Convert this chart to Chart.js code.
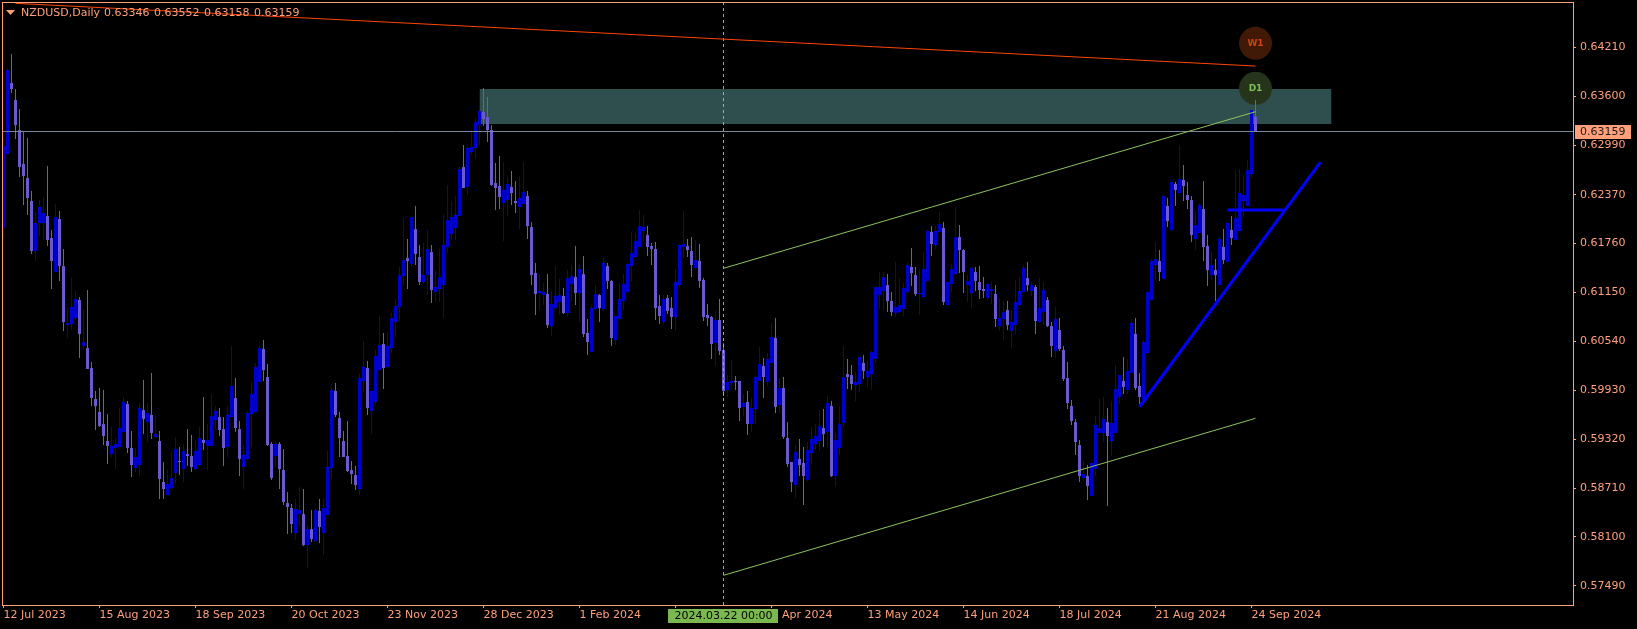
<!DOCTYPE html>
<html>
<head>
<meta charset="utf-8">
<title>NZDUSD Daily</title>
<script src="https://cdn.jsdelivr.net/npm/chart.js@4/dist/chart.umd.min.js"></script>
<style>
  html, body { margin: 0; padding: 0; background: #000; }
  canvas { display: block; }
</style>
</head>
<body>
<canvas id="chart" width="1637" height="629"></canvas>
<script>
const symbolName = "NZDUSD,Daily";

const opens = [
0.61954,0.62878,0.63765,0.63552,0.63178,0.62753,0.62578,0.62292,0.61668,0.62017,
0.62017,0.62104,0.61830,0.61405,0.62067,0.61480,0.60744,0.60756,0.60831,0.61056,
0.60482,0.60457,0.60207,0.59821,0.59658,0.59508,0.59297,0.59134,0.59209,0.59222,
0.59409,0.59758,0.59209,0.58959,0.58997,0.59683,0.59533,0.59621,0.59347,0.59297,
0.58785,0.58623,0.58710,0.58897,0.59047,0.58947,0.59134,0.59109,0.58947,0.58997,
0.59309,0.59234,0.59234,0.59558,0.59596,0.59446,0.59222,0.59596,0.59833,0.59446,
0.58972,0.59072,0.59633,0.59658,0.60033,0.60445,0.60095,0.59259,0.59109,0.59259,
0.58934,0.58523,0.58460,0.58149,0.58385,0.58385,0.57999,0.58198,0.58048,0.58423,
0.58149,0.58373,0.58959,0.59921,0.59583,0.59297,0.59109,0.58934,0.58872,0.58698,
0.60046,0.60207,0.59671,0.59783,0.60182,0.60507,0.60220,0.60457,0.60781,0.60969,
0.61355,0.61580,0.61505,0.61942,0.61593,0.61281,0.61368,0.61655,0.61156,0.61194,
0.61243,0.61718,0.61880,0.61954,0.62104,0.62716,0.62466,0.62903,0.62953,0.63240,
0.63402,0.63340,0.63178,0.62516,0.62479,0.62267,0.62304,0.62466,0.62292,0.62217,
0.62254,0.62354,0.61967,0.61393,0.61144,0.61118,0.61131,0.60731,0.60956,0.61031,
0.61106,0.60894,0.61256,0.61343,0.61144,0.61380,0.60645,0.60407,0.60944,0.61118,
0.60944,0.61480,0.61294,0.60557,0.60819,0.61044,0.61156,0.61480,0.61593,0.61718,
0.61917,0.61867,0.61730,0.61693,0.60981,0.60781,0.61081,0.60956,0.60844,0.61243,
0.61718,0.61730,0.61668,0.61455,0.61543,0.61306,0.60869,0.60844,0.60520,0.60806,
0.60432,0.59933,0.60021,0.60046,0.60046,0.59721,0.59783,0.59508,0.59696,0.60046,
0.60232,0.60033,0.60270,0.60582,0.59746,0.59958,0.59334,0.59034,0.58748,0.59072,
0.59022,0.58810,0.59147,0.59259,0.59297,0.59458,0.59409,0.59733,0.58859,0.59209,
0.59521,0.60132,0.60120,0.59996,0.60008,0.60270,0.60095,0.60132,0.60320,0.61118,
0.61169,0.61243,0.61044,0.60894,0.60906,0.60944,0.61156,0.61468,0.61368,0.61131,
0.61094,0.61294,0.61905,0.61743,0.61905,0.61954,0.60994,0.61256,0.61380,0.61842,
0.61680,0.61243,0.61144,0.61405,0.61281,0.61194,0.61081,0.61169,0.61131,0.60731,
0.60819,0.60931,0.60670,0.60744,0.60994,0.61156,0.61330,0.61169,0.61218,0.60781,
0.60906,0.61056,0.60731,0.60420,0.60682,0.60432,0.60082,0.59733,0.59533,0.59247,
0.58834,0.58859,0.58610,0.58947,0.59397,0.59397,0.59533,0.59297,0.59397,0.59846,
0.60046,0.59933,0.60145,0.60632,0.59983,0.59808,0.60395,0.61056,0.61493,0.61543,
0.61318,0.62229,0.61930,0.62504,0.62392,0.62554,0.62367,0.62304,0.61818,0.61893,
0.62192,0.61730,0.61368,0.61430,0.61243,0.61718,0.61530,0.61930,0.61805,0.61917,
0.62292,0.62229,0.62628,0.63346
];

const highs = [
0.63091,0.63951,0.64126,0.63690,0.63440,0.63153,0.63078,0.62417,0.62154,0.62304,
0.62342,0.62728,0.61930,0.62254,0.62167,0.61693,0.60969,0.61330,0.61169,0.61094,
0.60944,0.61181,0.60282,0.59921,0.59958,0.59933,0.59633,0.59471,0.59334,0.59708,
0.59846,0.59796,0.59422,0.59209,0.59771,0.60058,0.59771,0.60145,0.59608,0.59422,
0.59034,0.58934,0.59172,0.59347,0.59222,0.59259,0.59446,0.59372,0.59309,0.59471,
0.59846,0.59508,0.59883,0.59733,0.59708,0.59596,0.59733,0.60482,0.60082,0.59546,
0.59247,0.59671,0.60033,0.60270,0.60482,0.60557,0.60257,0.59284,0.59297,0.59284,
0.59197,0.58660,0.58510,0.58573,0.58722,0.58698,0.58248,0.58435,0.58448,0.58573,
0.58585,0.59172,0.60008,0.60021,0.59658,0.59422,0.59546,0.59047,0.58984,0.60132,
0.60545,0.60295,0.59921,0.60432,0.60856,0.60645,0.60657,0.60894,0.61069,0.61468,
0.62079,0.61818,0.62092,0.62229,0.61743,0.61768,0.61930,0.61743,0.61430,0.61693,
0.62129,0.62492,0.62292,0.62354,0.62728,0.62991,0.62978,0.63178,0.63328,0.63490,
0.63702,0.63590,0.63240,0.62766,0.62853,0.62778,0.62591,0.62666,0.62541,0.62603,
0.62778,0.62417,0.62029,0.61518,0.61380,0.61268,0.61380,0.61169,0.61480,0.61318,
0.61206,0.61430,0.61493,0.61730,0.61505,0.61605,0.60819,0.60994,0.61243,0.61131,
0.61580,0.61518,0.61306,0.60869,0.61268,0.61380,0.61518,0.61905,0.61893,0.62179,
0.62117,0.61979,0.61768,0.61780,0.61118,0.61118,0.61118,0.61094,0.61443,0.61755,
0.62167,0.61818,0.61842,0.61805,0.61755,0.61330,0.61006,0.60856,0.60919,0.61069,
0.60520,0.60120,0.60307,0.60107,0.60046,0.59883,0.59921,0.59833,0.60107,0.60470,
0.60332,0.60395,0.60769,0.60831,0.60082,0.60095,0.59533,0.59034,0.59247,0.59322,
0.59222,0.59284,0.59471,0.59508,0.59683,0.59696,0.59858,0.59796,0.59397,0.59733,
0.60482,0.60320,0.60245,0.60157,0.60345,0.60370,0.60307,0.60420,0.61231,0.61405,
0.61405,0.61380,0.61156,0.61530,0.61330,0.61268,0.61530,0.61705,0.61468,0.61443,
0.61655,0.61930,0.61979,0.61979,0.62154,0.62029,0.61281,0.61505,0.62217,0.61992,
0.61693,0.61368,0.61468,0.61468,0.61480,0.61343,0.61268,0.61294,0.61243,0.61081,
0.61044,0.61044,0.60931,0.61306,0.61343,0.61493,0.61530,0.61281,0.61243,0.61330,
0.61281,0.61094,0.60781,0.60969,0.60831,0.60482,0.60282,0.59808,0.59571,0.59309,
0.59047,0.58997,0.59022,0.59608,0.59821,0.59846,0.59708,0.59796,0.60245,0.60120,
0.60345,0.60320,0.60819,0.60831,0.60145,0.60557,0.61156,0.61568,0.61780,0.61680,
0.62367,0.62329,0.62541,0.62529,0.62991,0.62741,0.62529,0.62354,0.62167,0.62267,
0.62541,0.61867,0.61655,0.61568,0.61842,0.61942,0.62017,0.62104,0.62678,0.62691,
0.62603,0.62803,0.63427,0.63552
];

const lows = [
0.61818,0.62866,0.63640,0.63066,0.62591,0.62242,0.62117,0.61630,0.61543,0.61855,
0.61805,0.61730,0.61194,0.61405,0.61294,0.60670,0.60582,0.60682,0.60806,0.60332,
0.60432,0.60195,0.59733,0.59434,0.59471,0.59247,0.59009,0.59097,0.58947,0.59222,
0.59409,0.59147,0.58847,0.58909,0.58859,0.59384,0.59284,0.59322,0.59334,0.58573,
0.58573,0.58623,0.58685,0.58773,0.58872,0.58785,0.58984,0.58909,0.58934,0.58984,
0.59184,0.58934,0.59234,0.59434,0.59359,0.58984,0.59097,0.59596,0.59409,0.58859,
0.58698,0.59059,0.59222,0.59658,0.60033,0.60046,0.59234,0.58810,0.58972,0.58698,
0.58498,0.58136,0.58149,0.58061,0.58235,0.57986,0.57711,0.58036,0.58036,0.58024,
0.57874,0.58373,0.58822,0.59596,0.59097,0.59097,0.58909,0.58760,0.58685,0.58623,
0.59908,0.59621,0.59384,0.59746,0.60182,0.59946,0.60207,0.60395,0.60595,0.60781,
0.61243,0.61194,0.61468,0.61493,0.61243,0.61256,0.61118,0.61019,0.61031,0.61031,
0.60831,0.61643,0.61805,0.61805,0.62104,0.62454,0.62367,0.62866,0.62816,0.62991,
0.63227,0.63028,0.62479,0.62179,0.62192,0.61793,0.62104,0.62242,0.62142,0.61942,
0.62254,0.61818,0.61243,0.60869,0.60931,0.60994,0.60706,0.60607,0.60931,0.60869,
0.60881,0.60844,0.61044,0.60994,0.60781,0.60595,0.60370,0.60407,0.60931,0.60781,
0.60919,0.61194,0.60482,0.60495,0.60806,0.60931,0.61156,0.61281,0.61593,0.61718,
0.61793,0.61605,0.61493,0.60806,0.60756,0.60744,0.60881,0.60694,0.60670,0.61218,
0.61580,0.61593,0.61343,0.61443,0.61206,0.60794,0.60731,0.60320,0.60232,0.60370,
0.59858,0.59846,0.59946,0.59933,0.59546,0.59608,0.59372,0.59409,0.59508,0.60046,
0.59833,0.59983,0.60270,0.59646,0.59646,0.59322,0.58972,0.58660,0.58585,0.58859,
0.58498,0.58797,0.59009,0.59184,0.59172,0.59222,0.59222,0.58847,0.58722,0.59122,
0.59471,0.59946,0.59933,0.59796,0.59908,0.60070,0.59971,0.59933,0.60270,0.60944,
0.60931,0.60906,0.60856,0.60844,0.60894,0.60856,0.61131,0.61231,0.61106,0.60869,
0.61094,0.61294,0.61605,0.61693,0.61905,0.60994,0.60994,0.61156,0.61380,0.61393,
0.61144,0.61031,0.60956,0.61169,0.61069,0.61081,0.61056,0.61006,0.60719,0.60670,
0.60557,0.60682,0.60457,0.60632,0.60981,0.61156,0.61169,0.61106,0.60632,0.60769,
0.60744,0.60719,0.60345,0.60332,0.60420,0.60046,0.59696,0.59496,0.59122,0.58785,
0.58797,0.58560,0.58610,0.58859,0.59397,0.59284,0.58485,0.59109,0.59397,0.59758,
0.59883,0.59883,0.60145,0.59933,0.59758,0.59808,0.60395,0.61056,0.61306,0.61294,
0.61318,0.61967,0.61930,0.62229,0.62392,0.62292,0.62192,0.61780,0.61680,0.61893,
0.61543,0.61231,0.61306,0.61044,0.61243,0.61505,0.61530,0.61743,0.61805,0.61917,
0.62092,0.62229,0.62578,0.63158
];

const closes = [
0.62978,0.63926,0.63690,0.63240,0.62716,0.62603,0.62329,0.61668,0.62017,0.62217,
0.62142,0.61805,0.61543,0.62092,0.61480,0.60781,0.60769,0.60969,0.61069,0.60632,
0.60532,0.60195,0.59833,0.59733,0.59483,0.59359,0.59234,0.59234,0.59259,0.59458,
0.59783,0.59209,0.58997,0.59097,0.59708,0.59571,0.59646,0.59397,0.59384,0.58822,
0.58698,0.58760,0.58834,0.59197,0.59034,0.59172,0.59109,0.58972,0.59172,0.59334,
0.59272,0.59309,0.59608,0.59671,0.59434,0.59209,0.59621,0.59983,0.59458,0.59072,
0.59122,0.59646,0.59883,0.60220,0.60457,0.60182,0.59247,0.58834,0.59259,0.58947,
0.58535,0.58473,0.58260,0.58448,0.58435,0.57999,0.58198,0.58073,0.58435,0.58223,
0.58460,0.58972,0.59933,0.59621,0.59334,0.59097,0.58922,0.58884,0.58748,0.60082,
0.60220,0.59708,0.59921,0.60357,0.60495,0.60207,0.60482,0.60831,0.60981,0.61368,
0.61555,0.61543,0.62092,0.61630,0.61281,0.61368,0.61693,0.61181,0.61218,0.61343,
0.61743,0.62054,0.62092,0.62117,0.62691,0.62454,0.62953,0.62966,0.63277,0.63415,
0.63315,0.63178,0.62491,0.62454,0.62342,0.62429,0.62504,0.62392,0.62267,0.62329,
0.62404,0.61979,0.61368,0.61131,0.61169,0.61156,0.60744,0.61006,0.61106,0.61118,
0.60894,0.61330,0.61355,0.61144,0.61443,0.60632,0.60532,0.60956,0.61131,0.60956,
0.61518,0.61294,0.60582,0.60856,0.61069,0.61256,0.61505,0.61643,0.61793,0.61979,
0.61967,0.61718,0.61693,0.60956,0.60856,0.61069,0.60919,0.60844,0.61281,0.61743,
0.61755,0.61680,0.61493,0.61555,0.61294,0.60844,0.60831,0.60507,0.60806,0.60420,
0.59921,0.60033,0.60046,0.60033,0.59708,0.59771,0.59508,0.59708,0.60095,0.60257,
0.60095,0.60320,0.60595,0.59721,0.59958,0.59347,0.59009,0.58785,0.59159,0.58997,
0.58859,0.59184,0.59322,0.59359,0.59483,0.59384,0.59771,0.58859,0.59309,0.59508,
0.60095,0.60095,0.60008,0.60033,0.60345,0.60170,0.60170,0.60407,0.61218,0.61218,
0.61343,0.61044,0.60906,0.60969,0.60994,0.61206,0.61493,0.61393,0.61131,0.61144,
0.61443,0.61917,0.61755,0.61917,0.62004,0.61031,0.61281,0.61443,0.61842,0.61680,
0.61405,0.61294,0.61455,0.61294,0.61181,0.61169,0.61256,0.61194,0.60819,0.60831,
0.60906,0.60744,0.60781,0.61031,0.61169,0.61455,0.61243,0.61243,0.60794,0.60956,
0.61181,0.60731,0.60482,0.60819,0.60445,0.60070,0.59771,0.59546,0.59284,0.58859,
0.58884,0.58735,0.59022,0.59496,0.59458,0.59571,0.59359,0.59521,0.59946,0.60120,
0.59971,0.60170,0.60769,0.59958,0.59846,0.60532,0.61156,0.61543,0.61568,0.61405,
0.62354,0.62042,0.62529,0.62429,0.62566,0.62479,0.62304,0.61867,0.61992,0.62242,
0.61718,0.61430,0.61493,0.61368,0.61818,0.61555,0.62017,0.61830,0.62079,0.62392,
0.62367,0.62678,0.63427,0.63159
];

// axis labels
const priceTicks = [0.64210,0.63600,0.62990,0.62370,0.61760,0.61150,0.60540,0.59930,0.59320,0.58710,0.58100,0.57490];
const dateTicks = [0,24,48,72,96,120,144,168,192,216,240,264,288,312];
const dateLabels = ["12 Jul 2023","15 Aug 2023","18 Sep 2023","20 Oct 2023","23 Nov 2023","28 Dec 2023","1 Feb 2024","6 Mar 2024","9 Apr 2024","13 May 2024","14 Jun 2024","18 Jul 2024","21 Aug 2024","24 Sep 2024"];

// drawn objects, in bar index / price
const crossBar = 180;
const crossLabel = "2024.03.22 00:00";
const zoneBars = [119, 332];
const zoneHigh = 0.63689;
const zoneLow = 0.63252;
const weeklyLine = [{x:3, y:0.64759}, {x:313, y:0.63976}];
const channelTop = [{x:180, y:0.61452}, {x:313, y:0.63406}];
const channelBottom = [{x:180, y:0.57620}, {x:313, y:0.59580}];
const blueTrend = [{x:284, y:0.59724}, {x:329.25, y:0.62778}];
const blueLevel = [{x:306, y:0.62179}, {x:320, y:0.62179}];
const badges = [
  {text:"W1", x:313, y:0.64260, fill:"#401a06", color:"#cc4412"},
  {text:"D1", x:313, y:0.63698, fill:"#25341b", color:"#7fbf57"}
];

const yMin = 0.57250, yMax = 0.64763;
const xMin = -0.125, xMax = 392.375;

const UP = "#0000cd", DOWN = "#6a5acd", AXIS = "#ffa07a", GREEN = "#8cc45c";
const FONT = "11px 'DejaVu Sans'";

const barIdx = opens.map((_, i) => i);
const barColors = barIdx.map(i => closes[i] >= opens[i] ? UP : DOWN);
const lastClose = closes[closes.length - 1];

function lineDs(data, color, width, order, extra) {
  return Object.assign({
    type: "line", data, borderColor: color, borderWidth: width,
    pointRadius: 0, fill: false, tension: 0, order
  }, extra || {});
}

const overlayPlugin = {
  id: "overlay",
  afterDraw(chart) {
    const { ctx, chartArea: a, scales } = chart;
    ctx.save();
    ctx.font = FONT;

    // frame
    ctx.strokeStyle = AXIS;
    ctx.lineWidth = 1;
    ctx.strokeRect(a.left - 0.5, a.top - 0.5, a.right - a.left + 1, a.bottom - a.top + 1);

    // header
    ctx.fillStyle = AXIS;
    ctx.beginPath();
    ctx.moveTo(6, 10); ctx.lineTo(15, 10); ctx.lineTo(10.5, 15);
    ctx.closePath();
    ctx.fill();
    ctx.textBaseline = "middle";
    ctx.textAlign = "left";
    const n = opens.length - 1;
    ctx.fillText(symbolName, 21, 13);
    [opens[n], highs[n], lows[n], closes[n]].forEach((v, k) => {
      ctx.fillText(v.toFixed(5), 104 + 50 * k, 13);
    });

    // badge text
    ctx.font = "bold 9px 'DejaVu Sans'";
    ctx.textAlign = "center";
    badges.forEach(b => {
      ctx.fillStyle = b.color;
      ctx.fillText(b.text, scales.x.getPixelForValue(b.x), scales.y.getPixelForValue(b.y) + 0.5);
    });

    // last price tag
    ctx.font = FONT;
    ctx.textAlign = "left";
    const py = scales.y.getPixelForValue(lastClose);
    ctx.fillStyle = AXIS;
    ctx.fillRect(a.right + 2, Math.round(py) - 7, 56, 14);
    ctx.fillStyle = "#1a1a1a";
    ctx.fillText(lastClose.toFixed(5), a.right + 7, py + 0.5);

    // crosshair date tag
    const cx = scales.x.getPixelForValue(crossBar);
    ctx.fillStyle = "#79b950";
    ctx.fillRect(cx - 55.5, a.bottom + 4, 110, 14);
    ctx.fillStyle = "#000";
    ctx.textAlign = "center";
    ctx.fillText(crossLabel, cx, a.bottom + 11.5);
    ctx.restore();
  }
};

new Chart(document.getElementById("chart"), {
  type: "bar",
  data: {
    datasets: [
      lineDs(blueTrend, "#0000ff", 3, 1),
      lineDs(blueLevel, "#0000ff", 3, 1),
      lineDs(channelTop, GREEN, 1, 2),
      lineDs(channelBottom, GREEN, 1, 2),
      lineDs(weeklyLine, "#ff4500", 1, 2),
      lineDs([{x:crossBar, y:yMin}, {x:crossBar, y:yMax}], GREEN, 1, 2, { borderDash: [3, 3] }),
      lineDs([{x:xMin, y:lastClose}, {x:xMax, y:lastClose}], "#778899", 1, 3),
      {
        type: "bar", order: 4, grouped: false, barThickness: 3, maxBarThickness: 3, inflateAmount: 0,
        data: barIdx.map(i => ({ x: i, y: [opens[i], closes[i]] })),
        backgroundColor: barColors, borderWidth: 0
      },
      {
        type: "bar", order: 5, grouped: false, barThickness: 1, maxBarThickness: 1, inflateAmount: 0,
        data: barIdx.map(i => ({ x: i, y: [lows[i], highs[i]] })),
        backgroundColor: barColors, borderWidth: 0
      },
      {
        type: "bubble", order: 6,
        data: badges.map(b => ({ x: b.x, y: b.y, r: 16.5 })),
        backgroundColor: badges.map(b => b.fill), borderWidth: 0
      },
      lineDs(zoneBars.map(x => ({ x, y: zoneHigh })), "#2f4f4f", 0, 7),
      lineDs(zoneBars.map(x => ({ x, y: zoneLow })), "#2f4f4f", 0, 7, { fill: "-1", backgroundColor: "#2f4f4f" })
    ]
  },
  options: {
    responsive: false,
    animation: false,
    layout: { autoPadding: false, padding: { left: 3, top: 3, right: 0, bottom: 0 } },
    plugins: { legend: { display: false }, tooltip: { enabled: false } },
    events: [],
    scales: {
      x: {
        type: "linear", offset: false, min: xMin, max: xMax,
        grid: { offset: false, drawOnChartArea: false, tickColor: AXIS, tickLength: 3 },
        border: { color: AXIS },
        ticks: {
          align: "start", autoSkip: false, maxRotation: 0, padding: 1,
          color: AXIS, font: { family: "DejaVu Sans", size: 11 },
          callback: v => dateLabels[dateTicks.indexOf(v)]
        },
        afterBuildTicks: s => { s.ticks = dateTicks.map(value => ({ value })); },
        afterFit: s => { s.height = 24; s.paddingLeft = 0; s.paddingRight = 0; }
      },
      y: {
        type: "linear", position: "right", min: yMin, max: yMax,
        grid: { drawOnChartArea: false, tickColor: AXIS, tickLength: 3 },
        border: { color: AXIS },
        ticks: {
          autoSkip: false, padding: 4,
          color: AXIS, font: { family: "DejaVu Sans", size: 11 },
          callback: v => v.toFixed(5)
        },
        afterBuildTicks: s => { s.ticks = priceTicks.map(value => ({ value })); },
        afterFit: s => { s.width = 64; s.paddingTop = 0; s.paddingBottom = 0; }
      }
    }
  },
  plugins: [overlayPlugin]
});
</script>
</body>
</html>
